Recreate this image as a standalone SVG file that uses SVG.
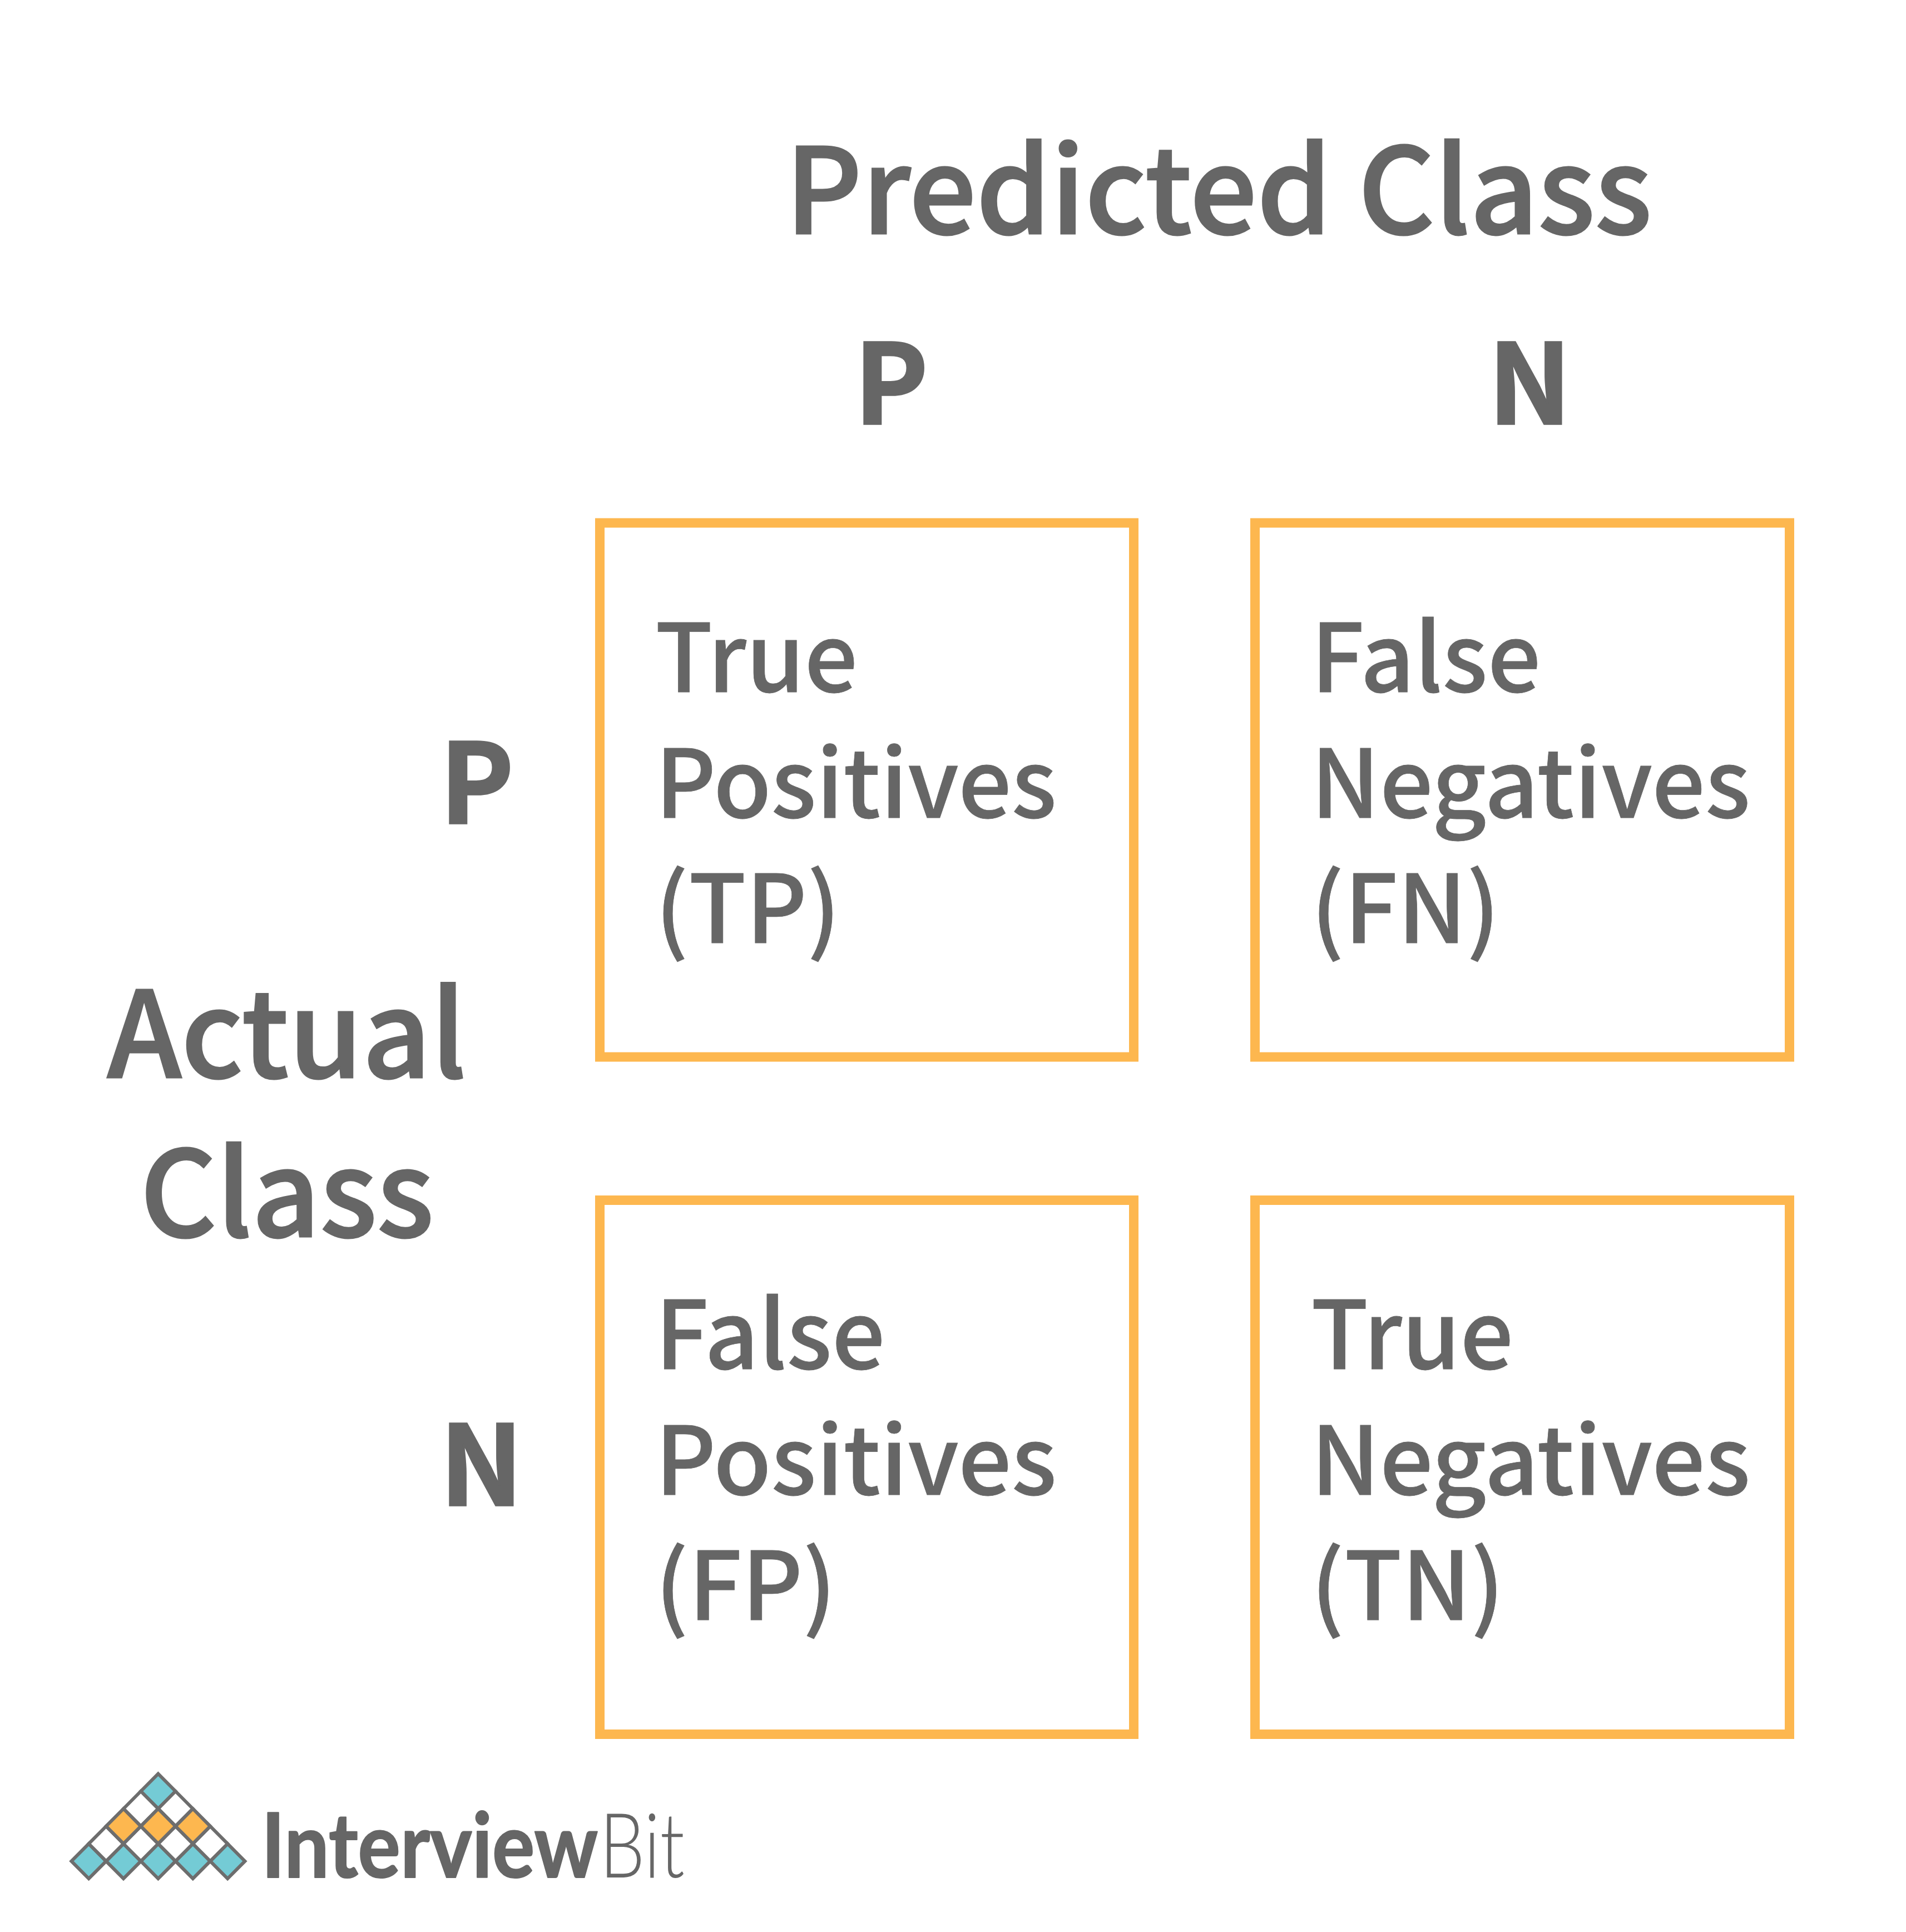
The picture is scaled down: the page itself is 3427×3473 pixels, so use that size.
<svg xmlns="http://www.w3.org/2000/svg" width="3427" height="3473" viewBox="0 0 3427 3473">
<style>
text{font-family:"Noto Sans CJK SC","Noto Sans",sans-serif;fill:#666666;stroke:#666666;stroke-linejoin:miter}
.cell{fill:none;stroke:#FDB74F;stroke-width:17}
.t{font-size:169px;font-weight:500;stroke-width:.8}
.h{font-size:213px;font-weight:500;stroke-width:3}
.b{font-size:199px;font-weight:700;stroke-width:3.5}
.d{stroke:#6D6D6D;stroke-width:6;stroke-linejoin:miter}
.lg{font-family:"Lato","Noto Sans",sans-serif;stroke-linejoin:round}
</style>
<defs><polygon id="dm" points="0,-31.4 31.2,0 0,31.4 -31.2,0"/></defs>
<rect width="3427" height="3473" fill="#fff"/>
<g id="title-predicted"><text class="h" x="1412" y="420">Predicted Class</text></g>
<g id="col-p"><text class="b" x="1536" y="762">P</text></g>
<g id="col-n"><text class="b" x="2676" y="762">N</text></g>
<g id="title-actual"><text class="h" x="193" y="1937" style="font-size:214px">Actual</text><text class="h" x="252" y="2223">Class</text></g>
<g id="row-p"><text class="b" x="791" y="1480">P</text></g>
<g id="row-n"><text class="b" x="791" y="2706">N</text></g>
<g id="cell-tp"><rect class="cell" x="1078.5" y="940" width="960" height="960"/>
<text class="t" x="1178" y="1244">True</text><text class="t" x="1178" y="1470">Positives</text><text class="t" x="1178" y="1695">(TP)</text></g>
<g id="cell-fn"><rect class="cell" x="2256.5" y="940" width="961" height="960"/>
<text class="t" x="2357" y="1244">False</text><text class="t" x="2357" y="1470">Negatives</text><text class="t" x="2357" y="1695">(FN)</text></g>
<g id="cell-fp"><rect class="cell" x="1078.5" y="2157.5" width="960" height="960"/>
<text class="t" x="1178" y="2461">False</text><text class="t" x="1178" y="2687">Positives</text><text class="t" x="1178" y="2912">(FP)</text></g>
<g id="cell-tn"><rect class="cell" x="2256.5" y="2157.5" width="961" height="960"/>
<text class="t" x="2357" y="2461">True</text><text class="t" x="2357" y="2687">Negatives</text><text class="t" x="2357" y="2912">(TN)</text></g>
<g id="logo">
<g class="d" fill="#74CBD5"><use href="#dm" x="284.4" y="3220"/><use href="#dm" x="159.6" y="3345.7"/><use href="#dm" x="222" y="3345.7"/><use href="#dm" x="284.4" y="3345.7"/><use href="#dm" x="346.8" y="3345.7"/><use href="#dm" x="409.2" y="3345.7"/></g>
<g class="d" fill="#FFFFFF"><use href="#dm" x="253.2" y="3251.4"/><use href="#dm" x="315.6" y="3251.4"/><use href="#dm" x="190.8" y="3314.3"/><use href="#dm" x="253.2" y="3314.3"/><use href="#dm" x="315.6" y="3314.3"/><use href="#dm" x="378" y="3314.3"/></g>
<g class="d" fill="#FDB74F"><use href="#dm" x="222" y="3282.8"/><use href="#dm" x="284.4" y="3282.8"/><use href="#dm" x="346.8" y="3282.8"/></g>
<text class="lg" transform="translate(470 3375) scale(1 1.12)" font-size="143" font-weight="700" stroke-width="2">Interview</text>
<text class="lg" transform="translate(1078 3375) scale(1 1.26)" font-size="129" font-weight="300" stroke-width="0">Bit</text>
</g>
</svg>
